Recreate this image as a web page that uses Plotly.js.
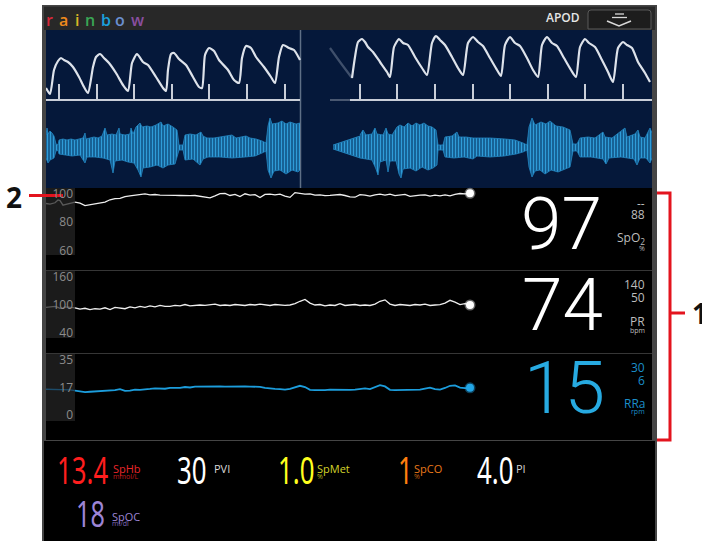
<!DOCTYPE html>
<html><head><meta charset="utf-8">
<script src="https://cdn.plot.ly/plotly-3.0.1.min.js"></script>
<style>html,body{margin:0;padding:0;background:#fff;overflow:hidden}#chart{width:702px;height:541px}
#chart text[style*="Condensed"]{font-stretch:condensed;transform-box:fill-box;transform-origin:0% 50%;transform:scaleX(0.68);}</style>
</head><body><div id="chart"></div>
<script>
// ================= DATA =================
// Pleth waveform (sample index @ 50 Hz, arbitrary amplitude above baseline)
const plethLeftX = [0,4,8,12,15,18,22,27,33,38,42,47,50,54,58,63,70,77,82,86,91,97,102,110,117,120,122,125,128,133,140,147,153,156,159,163,168,173,182,188,193,196,200,205,210,218,225,229,233,237,243,248,253,254];
const plethLeftY = [12,6,30,39,42,40,38,33,23,13,7,33,43,46,42,37,27,15,9,37,46,38,35,23,12,9,30,46,47,41,35,23,13,12,45,52,49,40,30,20,17,42,54,52,43,33,23,17,43,55,52,50,42,40];
const plethFadeX = [284,294,306];
const plethFadeY = [52,38,22];
const plethRightX = [306,309,312,316,319,322,327,334,341,344,348,353,357,362,369,376,381,386,390,394,399,406,412,417,422,427,432,437,444,451,455,459,464,469,474,481,487,492,496,501,506,511,518,525,530,534,539,543,549,556,562,567,572,577,581,586,592,599,604];
const plethRightY = [22,43,58,61,58,53,48,38,28,23,53,61,57,55,43,32,25,57,64,60,55,43,32,25,57,63,58,54,42,30,24,55,63,57,54,42,30,23,55,63,57,54,42,30,23,53,61,57,53,40,28,18,52,58,55,52,38,27,18];
const beatLeft = [13,51,88,126,163,201,239];
const beatRight = [314,351,389,427,464,502,539,577];

// Acoustic respiration waveform envelopes (upper / lower)
const acuLeftTopX = [0,1,2,4,6,8,10,12,13,17,21,25,29,33,37,39,40,44,48,52,56,59,61,66,70,73,74,79,84,85,87,90,94,96,101,105,110,115,117,122,124,127,131,133,137,139,144,150,155,157,161,168,174,186,190,200,204,210,216,220,222,224,226,232,236,240,244,250,254];
const acuLeftTopY = [12,19,13,16,14,11,3,2,7,8,7,8,7,8,9,14,8,9,10,9,11,19,12,13,12,19,13,12,13,19,13,20,24,20,21,20,22,25,21,23,22,20,17,2,2,12,13,12,15,11,9,9,10,12,9,11,9,8,6,4,21,29,23,24,26,23,25,23,24];
const acuLeftBotX = [0,2,4,8,10,12,13,19,26,34,39,41,49,57,64,67,69,76,82,88,92,95,97,104,111,117,122,129,133,137,139,147,154,157,162,174,186,199,209,216,220,222,225,228,234,240,246,252,254];
const acuLeftBotY = [-11,-16,-13,-11,-4,-3,-7,-8,-9,-8,-16,-10,-10,-11,-13,-26,-14,-13,-15,-16,-23,-30,-21,-20,-18,-21,-18,-17,-3,-3,-13,-12,-18,-12,-10,-10,-11,-10,-9,-6,-4,-23,-31,-24,-23,-27,-23,-25,-23];
const acuFadeX = [287,295,305,314];
const acuFadeTopY = [2,5,8,11];
const acuFadeBotY = [-2,-5,-8,-11];
const acuRightTopX = [314,317,320,326,329,331,337,340,342,346,351,354,358,362,366,370,374,378,382,386,390,392,397,399,406,411,413,420,427,444,459,469,477,481,483,486,489,495,500,504,510,517,524,527,531,534,542,549,557,559,566,579,581,589,592,594,599,604,606];
const acuRightTopY = [12,17,12,13,19,13,12,19,13,12,20,22,20,24,21,24,22,24,21,20,17,2,2,10,11,15,10,10,9,9,8,7,4,2,20,29,22,25,23,26,21,20,17,3,3,9,10,9,15,10,9,19,10,13,17,10,9,19,14];
const acuRightBotX = [314,320,326,330,332,334,340,342,344,350,353,355,357,364,370,376,382,387,391,392,397,399,408,418,427,431,444,458,470,477,481,483,486,489,494,499,505,512,519,524,527,531,534,545,557,560,563,575,588,591,594,600,604,606];
const acuRightBotY = [-11,-12,-13,-22,-28,-15,-13,-25,-14,-14,-27,-31,-22,-21,-24,-20,-23,-21,-18,-3,-3,-10,-11,-10,-12,-9,-10,-9,-7,-5,-3,-20,-30,-24,-23,-27,-23,-25,-22,-20,-4,-4,-10,-10,-12,-17,-11,-10,-12,-18,-11,-11,-16,-11];

// Trends
const spo2Trend = [94.0,93.2,91.5,92.2,92.6,93.1,94.0,95.6,96.4,96.6,97.8,98.3,98.9,99.5,99.7,99.0,99.3,98.8,98.6,98.9,98.7,98.6,98.8,98.5,98.6,98.2,97.5,97.0,98.4,99.9,100.1,98.6,99.4,97.8,99.8,98.9,99.2,97.2,99.4,99.5,99.0,99.6,98.2,97.3,100.6,100.2,99.5,99.7,98.9,99.1,98.5,98.7,98.9,99.3,98.6,97.7,97.4,99.2,98.9,98.2,99.0,99.5,98.8,99.6,98.5,98.9,99.4,98.0,98.7,98.9,99.1,98.2,98.8,98.4,99.0,98.3,99.4,100.0,99.8,100.1];
const prTrend = [94,91,93,90,92,91,94,90,95,93,92,96,94,97,95,98,96,99,97,97,99,98,101,98,99,100,99,100,102,99,100,99,101,100,99,101,100,102,100,99,101,100,99,100,103,108,112,104,100,101,98,100,99,103,99,100,101,99,100,99,102,108,111,102,99,101,100,99,101,100,102,99,100,101,104,110,106,101,103,100];
const rrTrend = [15.5,15.2,14.6,14.8,15.0,14.9,15.3,15.6,15.8,16.4,15.4,15.5,16.2,16.0,16.1,16.6,17.0,16.8,16.7,17.2,17.1,17.3,17.8,17.5,18.1,18.2,18.2,18.2,18.2,18.2,18.1,18.2,18.2,18.3,18.2,18.1,18.0,17.9,17.2,16.7,16.6,16.5,16.2,16.6,17.5,18.6,17.8,16.0,15.8,15.7,15.8,16.1,16.0,16.3,16.1,16.0,16.2,16.8,17.0,16.5,17.6,19.0,18.2,16.0,15.8,15.9,16.0,16.1,16.0,16.1,16.8,17.4,16.5,16.2,17.2,18.6,18.8,17.4,17.1,17.3];
const pastIdx = [-5.8,-5,-4,-3.4,-3,-2.4,-2,-1,0];
const spo2Past = [93,92.5,93.5,95.5,95,91.8,92.2,93,94];
const prPast = [95,96,97,95,93,94,96,95,94];
const rrPast = [16.4,16.3,16.1,16.0,16.2,16.3,16.2,16.0,15.5];
const spo2Ticks = [60,80,100];
const prTicks = [40,100,160];
const rrTicks = [0,17,35];

// Readings
const currentValues = ['97','74','15'];
const limitHigh = ['--','140','30'];
const limitLow = ['88','50','6'];
const trendNames = ['SpO<sub>2</sub>','PR','RRa'];
const trendUnits = ['%','bpm','rpm'];
const paramValues = ['13.4','30','1.0','1','4.0','18'];
const paramNames = ['SpHb','PVI','SpMet','SpCO','PI','SpOC'];
const paramUnits = ['mmol/L','','%','%','','ml/dl'];
const brandLetters = ['r','a','i','n','b','o','w'];
const modeLabel = 'APOD';

// ================= LAYOUT HELPERS =================
const W = 702, H = 541;
const X = p => p / W;
const Y = p => 1 - p / H;
const dom = (t, b) => [1 - b / H, 1 - t / H];
function rng(t, b, v1, p1, v2, p2) { const s = (v1 - v2) / (p2 - p1); return [v1 - (b - p1) * s, v1 + (p1 - t) * s]; }
function rect(x0, y0, x1, y1, fill, layer) { return {type:'rect', xref:'paper', yref:'paper', x0:X(x0), x1:X(x1), y0:Y(y1), y1:Y(y0), fillcolor:fill, line:{width:0}, layer:layer||'below'}; }
function seg(x0, y0, x1, y1, color, w, layer) { return {type:'line', xref:'paper', yref:'paper', x0:X(x0), x1:X(x1), y0:Y(y0), y1:Y(y1), line:{color:color, width:w}, layer:layer||'below'}; }
function path(pts, color, w, fill, layer) {
  let d = pts.map(p => { let s = p[0]; for (let i = 1; i < p.length; i += 2) s += ' ' + X(p[i]).toFixed(5) + ',' + Y(p[i+1]).toFixed(5); return s; }).join(' ');
  return {type:'path', xref:'paper', yref:'paper', path:d, line:{color:color, width:w}, fillcolor:fill||'rgba(0,0,0,0)', layer:layer||'below'};
}
function T(text, x, y, size, color, o) {
  o = o || {};
  return {text:text, x:X(x), y:Y(y), xref:'paper', yref:'paper', showarrow:false, xanchor:o.xa||'left', yanchor:'middle', borderpad:0,
          font:{family:o.f||'Open Sans, Noto Sans, sans-serif', size:size, color:color, weight:o.w||400}};
}

// ================= TRACES =================
const traces = [];
const plethLine = {color:'#dde2ea', width:2.2, shape:'spline', smoothing:0.6};
traces.push({x:plethLeftX, y:plethLeftY, xaxis:'x', yaxis:'y', mode:'lines', line:plethLine, hoverinfo:'skip'});
traces.push({x:plethFadeX, y:plethFadeY, xaxis:'x', yaxis:'y', mode:'lines', line:Object.assign({}, plethLine, {color:'rgba(200,208,222,0.3)'}), hoverinfo:'skip'});
traces.push({x:plethRightX, y:plethRightY, xaxis:'x', yaxis:'y', mode:'lines', line:plethLine, hoverinfo:'skip'});
const bx = [0, plethLeftX[plethLeftX.length-1], null], by = [0, 0, null];
beatLeft.concat(beatRight).forEach(t => { bx.push(t, t, null); by.push(0, 16, null); });
bx.push(304, 606); by.push(0, 0);
traces.push({x:bx, y:by, xaxis:'x', yaxis:'y', mode:'lines', line:{color:'#c9ced8', width:2}, hoverinfo:'skip'});
traces.push({x:[284,304], y:[0,0], xaxis:'x', yaxis:'y', mode:'lines', line:{color:'rgba(200,206,216,0.35)', width:2}, hoverinfo:'skip'});

const pat = {shape:'|', size:3, solidity:0.4, fgcolor:'#2f9cd8', bgcolor:'#145c8f'};
function acu(tx, ty, bxx, byy, op) {
  traces.push({x:bxx, y:byy, xaxis:'x', yaxis:'y2', mode:'lines', line:{color:'#2386c2', width:0.8}, opacity:op, hoverinfo:'skip'});
  traces.push({x:tx, y:ty, xaxis:'x', yaxis:'y2', mode:'lines', line:{color:'#2386c2', width:0.8}, fill:'tonexty', fillcolor:'#1c74ad', fillpattern:pat, opacity:op, hoverinfo:'skip'});
}
acu(acuLeftTopX, acuLeftTopY, acuLeftBotX, acuLeftBotY, 1);
acu(acuFadeX, acuFadeTopY, acuFadeX, acuFadeBotY, 0.35);
acu(acuRightTopX, acuRightTopY, acuRightBotX, acuRightBotY, 1);

const idx = spo2Trend.map((_, i) => i);
const trendSets = [[spo2Trend, spo2Past, 'y3', '#eeeeee', '#5a5a5a', '#ffffff'],
                   [prTrend, prPast, 'y4', '#eeeeee', '#5a5a5a', '#ffffff'],
                   [rrTrend, rrPast, 'y5', '#1c9ddc', '#1d4c6a', '#22a6e6']];
trendSets.forEach(s => {
  traces.push({x:pastIdx, y:s[1], xaxis:'x2', yaxis:s[2], mode:'lines', line:{color:s[4], width:1.3}, hoverinfo:'skip'});
  traces.push({x:idx, y:s[0], xaxis:'x2', yaxis:s[2], mode:'lines', line:{color:s[3], width:s[2]==='y5'?1.8:1.3}, hoverinfo:'skip'});
  traces.push({x:[idx[idx.length-1]], y:[s[0][s[0].length-1]], xaxis:'x2', yaxis:s[2], mode:'markers',
               marker:{size:8, color:s[5], line:{color:s[2]==='y5'?'rgba(34,166,230,0.4)':'rgba(255,255,255,0.4)', width:3}}, cliponaxis:false, hoverinfo:'skip'});
});

// ================= SHAPES =================
const shapes = [
  rect(42, 5, 657, 541, '#454545'),
  rect(44, 6, 655, 30, '#282828'),
  seg(44, 6, 655, 6, '#4a4a4a', 1),
  rect(46, 30, 652, 188, '#05183a'),
  rect(46, 188, 652, 440, '#000000'),
  rect(44, 441, 655, 541, '#000000'),
  rect(46, 188, 75, 255, '#1b1b1b'),
  rect(46, 271, 75, 338, '#1b1b1b'),
  rect(46, 354, 75, 421, '#1b1b1b'),
  seg(46, 270.5, 652, 270.5, '#363636', 1),
  seg(46, 353.5, 652, 353.5, '#363636', 1),
  seg(300.5, 30, 300.5, 188, '#5f6f86', 1.5),
  path([['M',588,29],['L',588,13],['Q',588,10,591,10],['L',648,10],['Q',651,10,651,13],['L',651,29],['Z']], '#5a5a5a', 1, '#1d1d1d'),
  seg(615, 14, 624, 14, '#d8d8d8', 1.3),
  seg(612, 17.5, 627, 17.5, '#d8d8d8', 1.3),
  path([['M',607,21],['L',619,26],['L',631,21]], '#d8d8d8', 1.6),
  seg(29, 195.5, 63, 195.5, '#e3141e', 3),
  path([['M',657,193],['L',670,193],['L',670,440],['L',657,440]], '#e3141e', 3, null, 'above'),
  seg(670, 313, 685, 313, '#e3141e', 3, 'above')
];

// ================= ANNOTATIONS =================
const anns = [];
const brandX = [49,63,77,90,106,120,137];
const brandC = ['#d8283a','#f08a1c','#d9b626','#3aa655','#1aa0dc','#6a8fd0','#8a4fa0'];
brandLetters.forEach((l, i) => anns.push(T(l, brandX[i], 19.5, 16, brandC[i], {xa:'center', w:600})));
anns.push(T(modeLabel, 563, 17.5, 12, '#e6e6e6', {xa:'center', w:600}));

const bigX = [561.5, 562.5, 564], bigY = [223.5, 305, 388];
const hiY = [203, 284, 367.5], loY = [214, 297.5, 380.5], nmY = [238, 321.5, 403], unY = [248, 330.5, 411.5];
const mainC = ['#ffffff','#ffffff','#27aae1'], subC = ['#bdbdbd','#bdbdbd','#1b8fc9'];
for (let i = 0; i < 3; i++) {
  anns.push(T(currentValues[i], bigX[i], bigY[i], 73, mainC[i], {xa:'center', f:'Roboto, Open Sans, sans-serif', w:300}));
  anns.push(T(limitHigh[i], 646, hiY[i], 12, subC[i], {xa:'right'}));
  anns.push(T(limitLow[i], 646, loY[i], 12, subC[i], {xa:'right'}));
  anns.push(T(trendNames[i], 646, nmY[i], 12, subC[i], {xa:'right'}));
  anns.push(T(trendUnits[i], 646, unY[i], 7, subC[i], {xa:'right'}));
}

const condensed = '"Noto Sans Condensed", "Noto Sans", sans-serif';
const pvX = [56,176,277,397,476,75], pvY = [469,469,469,469,469,512.5], pvS = [38,38,38,38,38,37];
const pnX = [112,213,316,413,515,111], pnY = [468.5,468.5,468.5,468.5,468.5,516];
const pvC = ['#ff1e1e','#ffffff','#ffff1e','#ff7f0f','#ffffff','#9d85d6'];
const pnC = ['#e8262a','#d8d8d8','#d4d42a','#e8781a','#d0d0d0','#9d85d6'];
const puC = ['#c41c1c','#000','#b8b81c','#c8620e','#000','#7e68b8'];
for (let i = 0; i < paramValues.length; i++) {
  anns.push(T(paramValues[i], pvX[i], pvY[i], pvS[i], pvC[i], {f:condensed}));
  anns.push(T(paramNames[i], pnX[i], pnY[i], 11, pnC[i]));
  if (paramUnits[i]) anns.push(T(paramUnits[i], pnX[i], pnY[i] + 7.5, 7, puC[i]));
}
anns.push(T('2', 14, 197, 28, '#111111', {xa:'center', w:700}));
anns.push(T('1', 691, 313, 28, '#111111', {w:700}));

// ================= AXES =================
const tickFont = {family:'Open Sans, Noto Sans, sans-serif', size:12, color:'#8c8c8c'};
function trendAxis(t, b, v1, p1, v2, p2, ticks) {
  return {domain:dom(t, b), range:rng(t, b, v1, p1, v2, p2), anchor:'free', position:X(75), tickvals:ticks, ticktext:ticks.map(String),
          showgrid:false, zeroline:false, showline:false, ticks:'', ticklabelstandoff:2, tickfont:tickFont, fixedrange:true};
}
const layout = {
  width:W, height:H, margin:{l:0, r:0, t:0, b:0}, paper_bgcolor:'#ffffff', plot_bgcolor:'rgba(0,0,0,0)', showlegend:false,
  xaxis:{domain:[X(46), X(652)], range:[0, 606], visible:false, anchor:'y', fixedrange:true},
  yaxis:{domain:dom(30, 105), range:rng(30, 105, 0, 100, 50, 50), visible:false, anchor:'x'},
  yaxis2:{domain:dom(110, 188), range:rng(110, 188, 0, 147, 20, 127), visible:false, anchor:'x'},
  xaxis2:{domain:[X(46), X(480)], range:[-5.8, 81], visible:false, anchor:'y3', fixedrange:true},
  yaxis3:trendAxis(188, 268, 100, 193.5, 60, 250.5, spo2Ticks),
  yaxis4:trendAxis(271, 350, 160, 277, 40, 333, prTicks),
  yaxis5:trendAxis(354, 438, 35, 360, 0, 415, rrTicks),
  shapes:shapes, annotations:anns
};
Plotly.newPlot('chart', traces, layout, {staticPlot:true, displayModeBar:false});
</script></body></html>
